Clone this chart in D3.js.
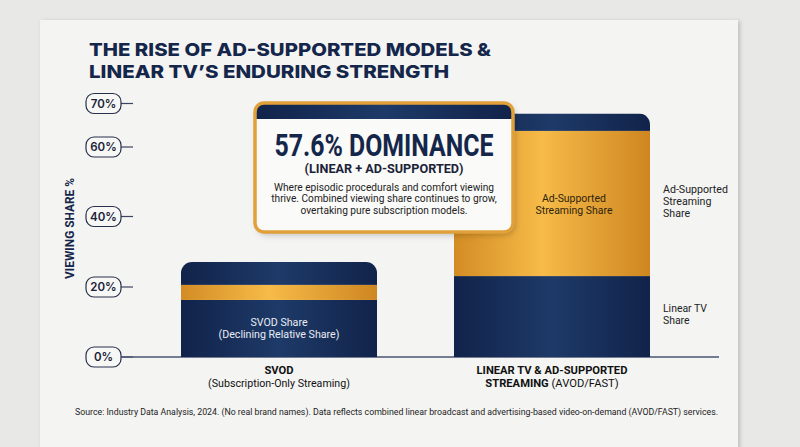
<!DOCTYPE html>
<html>
<head>
<meta charset="utf-8">
<script src="https://cdn.jsdelivr.net/npm/d3@7"></script>
<style>
  html, body { margin: 0; padding: 0; background: #e8e8e6; }
  svg { display: block; }
</style>
</head>
<body>
<div id="chart"></div>
<script>
// chart data
var categories = ["SVOD", "LINEAR TV & AD-SUPPORTED"];
// stacked pieces, bottom to top (viewing share %)
var svodSegments = [16.3, 4.3, 6.5];        // navy, gold band, navy
var linearAdSegments = [23.1, 40.6, 4.0];   // linear TV, ad-supported, navy cap
var tickValues = [0, 20, 40, 60, 70];
var tickLabels = ["0%", "20%", "40%", "60%", "70%"];

var svgWidth = 800;
var svgHeight = 447;

var ink = "#14264a";

var svg = d3.select("#chart")
  .append("svg")
  .attr("width", svgWidth)
  .attr("height", svgHeight);

var defs = svg.append("defs");

// gradients
var gNavy = defs.append("linearGradient").attr("id", "navyGrad");
gNavy.append("stop").attr("offset", "0%").attr("stop-color", "#11234a");
gNavy.append("stop").attr("offset", "50%").attr("stop-color", "#1e3a68");
gNavy.append("stop").attr("offset", "100%").attr("stop-color", "#11234a");

var gGold = defs.append("linearGradient").attr("id", "goldGrad");
gGold.append("stop").attr("offset", "0%").attr("stop-color", "#d38c24");
gGold.append("stop").attr("offset", "45%").attr("stop-color", "#f6bb48");
gGold.append("stop").attr("offset", "100%").attr("stop-color", "#cf8621");

var shadow = defs.append("filter").attr("id", "shadow")
  .attr("x", "-10%").attr("y", "-10%").attr("width", "130%").attr("height", "130%");
shadow.append("feDropShadow").attr("dx", 2).attr("dy", 3)
  .attr("stdDeviation", 3).attr("flood-color", "#000").attr("flood-opacity", 0.22);

var cardShadow = defs.append("filter").attr("id", "cardShadow")
  .attr("x", "-5%").attr("y", "-5%").attr("width", "110%").attr("height", "120%");
cardShadow.append("feDropShadow").attr("dx", 2).attr("dy", 1)
  .attr("stdDeviation", 2).attr("flood-color", "#000").attr("flood-opacity", 0.18);

// scale a text's font so its widest line matches the width in the picture
function fitText(t, target) {
  var nodes = t.selectAll("tspan").nodes();
  var w = nodes.length ? d3.max(nodes, n => n.getComputedTextLength()) : t.node().getComputedTextLength();
  var fs = parseFloat(t.style("font-size"));
  var nfs = fs * target / w;
  t.style("font-size", nfs + "px");
  return nfs;
}

// paper card
svg.append("rect")
  .attr("x", 40).attr("y", 20)
  .attr("width", 698).attr("height", 460)
  .attr("fill", "#f4f4f2")
  .attr("filter", "url(#cardShadow)");

// title, two lines
var titleLines = ["THE RISE OF AD-SUPPORTED MODELS &", "LINEAR TV\u2019S ENDURING STRENGTH"];
var titleWidths = [402, 360];
titleLines.forEach((l, i) => {
  svg.append("text")
    .attr("x", 89).attr("y", 56 + i * 21.5)
    .attr("textLength", titleWidths[i]).attr("lengthAdjust", "spacingAndGlyphs")
    .style("font-family", "Inter")
    .style("font-weight", 800)
    .style("font-size", "17.6px")
    .attr("fill", ink)
    .text(l);
});

// scales
var yScale = d3.scaleLinear()
  .domain(tickValues)
  .range([357, 287, 216.5, 147, 103.5]);

var xScale = d3.scaleBand()
  .domain(categories)
  .range([181, 650])
  .paddingInner(77 / 273)
  .paddingOuter(0);

// y ticks as pills
var tickG = svg.append("g").selectAll("g")
  .data(tickValues)
  .enter()
  .append("g")
  .attr("transform", d => `translate(0, ${yScale(d)})`);

tickG.append("line")
  .attr("x1", 121).attr("x2", 133)
  .attr("stroke", "#3a4460").attr("stroke-width", 1.2);

tickG.append("rect")
  .attr("x", 86).attr("y", -10)
  .attr("width", 35).attr("height", 20)
  .attr("rx", 8)
  .attr("fill", "#f7f7f5")
  .attr("stroke", "#27304a")
  .attr("stroke-width", 1.2);

tickG.append("text")
  .attr("x", 103.5).attr("y", 4.2)
  .attr("text-anchor", "middle")
  .style("font-family", "Inter")
  .style("font-weight", 600)
  .style("font-size", "11.5px")
  .attr("fill", "#1a2238")
  .text((d, i) => tickLabels[i]);

// baseline
svg.append("line")
  .attr("x1", 121).attr("x2", 719)
  .attr("y1", yScale(0)).attr("y2", yScale(0))
  .attr("stroke", "#4a5572").attr("stroke-width", 1.3);

// y axis title
var yTitle = svg.append("text")
  .attr("transform", `translate(73.5, 228.5) rotate(-90)`)
  .attr("text-anchor", "middle")
  .style("font-family", "Roboto")
  .style("font-weight", 700)
  .style("font-size", "12px")
  .attr("fill", ink)
  .text("VIEWING SHARE %");
fitText(yTitle, 101);

// bars
var barData = [
  { cat: categories[0], segs: svodSegments, fills: ["url(#navyGrad)", "url(#goldGrad)", "url(#navyGrad)"] },
  { cat: categories[1], segs: linearAdSegments, fills: ["url(#navyGrad)", "url(#goldGrad)", "url(#navyGrad)"] }
];

barData.forEach((b, bi) => {
  var total = d3.sum(b.segs);
  var x0 = xScale(b.cat);
  var w = xScale.bandwidth();
  var top = yScale(total);

  defs.append("clipPath").attr("id", "barClip" + bi)
    .append("rect")
    .attr("x", x0).attr("y", top)
    .attr("width", w).attr("height", yScale(0) - top + 12)
    .attr("rx", 11);

  var cum = d3.cumsum(b.segs);
  var g = svg.append("g").attr("clip-path", `url(#barClip${bi})`);
  g.selectAll("rect")
    .data(b.segs)
    .enter()
    .append("rect")
    .attr("x", x0)
    .attr("width", w)
    .attr("y", (d, i) => yScale(cum[i]))
    .attr("height", (d, i) => yScale(cum[i] - d) - yScale(cum[i]))
    .attr("fill", (d, i) => b.fills[i]);
});

// labels inside bars
var svodCenter = xScale(categories[0]) + xScale.bandwidth() / 2;
var linCenter = xScale(categories[1]) + xScale.bandwidth() / 2;

function multiline(x, y, lines, lh, opts) {
  var t = svg.append("text")
    .attr("text-anchor", opts.anchor || "middle")
    .style("font-family", "Roboto")
    .style("font-weight", opts.weight || 400)
    .style("font-size", opts.size || "12px")
    .attr("fill", opts.fill || "#222");
  lines.forEach((l, i) => {
    t.append("tspan").attr("x", x).attr("y", y + i * lh).text(l);
  });
  if (opts.width) fitText(t, opts.width);
  return t;
}

multiline(svodCenter, 326, ["SVOD Share", "(Declining Relative Share)"], 12,
  { fill: "#e8ecf4", width: 121 });

multiline(linCenter + 22, 202, ["Ad-Supported", "Streaming Share"], 11.5,
  { fill: "#2e2310", width: 77 });

// right side legend labels
multiline(663, 193, ["Ad-Supported", "Streaming", "Share"], 11.8,
  { anchor: "start", fill: "#222", width: 65 });
multiline(663, 312, ["Linear TV", "Share"], 12,
  { anchor: "start", fill: "#222", width: 44 });

// category labels
var c1a = svg.append("text")
  .attr("x", svodCenter).attr("y", 373.5)
  .attr("text-anchor", "middle")
  .style("font-family", "Roboto").style("font-weight", 700).style("font-size", "11.5px")
  .attr("fill", "#111")
  .text("SVOD");
var c1b = svg.append("text")
  .attr("x", svodCenter).attr("y", 386.5)
  .attr("text-anchor", "middle")
  .style("font-family", "Roboto").style("font-size", "12px")
  .attr("fill", "#111")
  .text("(Subscription-Only Streaming)");
fitText(c1b, 142);

var c2a = svg.append("text")
  .attr("x", linCenter).attr("y", 373.5)
  .attr("text-anchor", "middle")
  .style("font-family", "Roboto").style("font-weight", 700).style("font-size", "12px")
  .attr("fill", "#111")
  .text("LINEAR TV & AD-SUPPORTED");
var catSize = fitText(c2a, 151);
var cat2 = svg.append("text")
  .attr("x", linCenter).attr("y", 386.5)
  .attr("text-anchor", "middle")
  .style("font-family", "Roboto").style("font-size", catSize + "px")
  .attr("fill", "#111");
cat2.append("tspan").style("font-weight", 700).text("STREAMING ");
cat2.append("tspan").text("(AVOD/FAST)");
c1a.style("font-size", catSize + "px");

// callout box
var box = { x: 255, y: 103, w: 258, h: 129 };
var callout = svg.append("g");

defs.append("clipPath").attr("id", "boxClip")
  .append("rect")
  .attr("x", box.x).attr("y", box.y)
  .attr("width", box.w).attr("height", box.h)
  .attr("rx", 9);

callout.append("rect")
  .attr("x", box.x).attr("y", box.y)
  .attr("width", box.w).attr("height", box.h)
  .attr("rx", 9)
  .attr("fill", "#fafaf8")
  .attr("filter", "url(#shadow)");

callout.append("rect")
  .attr("clip-path", "url(#boxClip)")
  .attr("x", box.x).attr("y", box.y)
  .attr("width", box.w).attr("height", 16)
  .attr("fill", "url(#navyGrad)");

callout.append("rect")
  .attr("x", box.x).attr("y", box.y)
  .attr("width", box.w).attr("height", box.h)
  .attr("rx", 9)
  .attr("fill", "none")
  .attr("stroke", "#e2a03a")
  .attr("stroke-width", 3.5);

var cx = box.x + box.w / 2;
callout.append("text")
  .attr("x", cx).attr("y", 155.5)
  .attr("text-anchor", "middle")
  .attr("textLength", 219).attr("lengthAdjust", "spacingAndGlyphs")
  .style("font-family", "Roboto").style("font-weight", 700).style("font-size", "30.5px")
  .attr("fill", ink)
  .text("57.6% DOMINANCE");

callout.append("text")
  .attr("x", cx).attr("y", 172.5)
  .attr("text-anchor", "middle")
  .attr("textLength", 159).attr("lengthAdjust", "spacingAndGlyphs")
  .style("font-family", "Roboto").style("font-weight", 700).style("font-size", "12px")
  .attr("fill", "#1a2238")
  .text("(LINEAR + AD-SUPPORTED)");

var body = callout.append("text")
  .attr("text-anchor", "middle")
  .style("font-family", "Roboto").style("font-size", "12px")
  .attr("fill", "#222");
["Where episodic procedurals and comfort viewing",
 "thrive. Combined viewing share continues to grow,",
 "overtaking pure subscription models."].forEach((l, i) => {
  body.append("tspan").attr("x", cx).attr("y", 190.5 + i * 11.5).text(l);
});
fitText(body, 226);

// source note
var source = svg.append("text")
  .attr("x", 75).attr("y", 415)
  .style("font-family", "Roboto").style("font-size", "10.5px")
  .attr("fill", "#222")
  .text("Source: Industry Data Analysis, 2024. (No real brand names). Data reflects combined linear broadcast and advertising-based video-on-demand (AVOD/FAST) services.");
fitText(source, 644);
</script>
</body>
</html>
